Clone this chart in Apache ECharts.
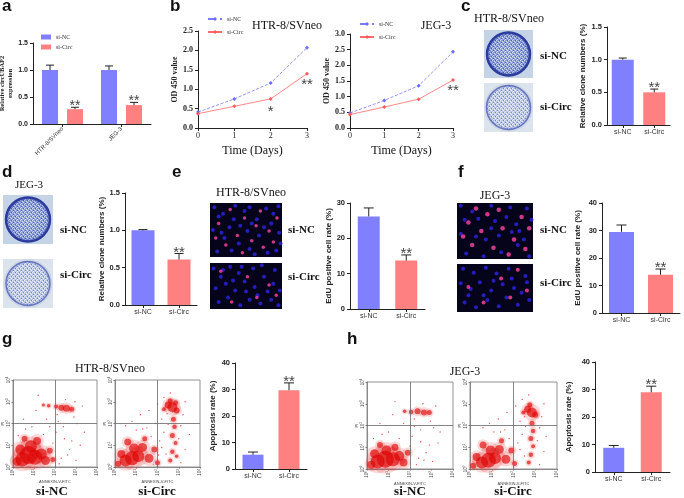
<!DOCTYPE html>
<html>
<head>
<meta charset="utf-8">
<script src="https://cdn.jsdelivr.net/npm/echarts@6/dist/echarts.min.js"></script>
<style>
  html, body { margin: 0; padding: 0; background: #fff; }
  #chart { width: 684px; height: 498px; }
</style>
</head>
<body>
<div id="chart"></div>
<script>
// ---- data ----
const groups = ['si-NC', 'si-Circ'];
const cellLines = ['HTR-8/SVneo', 'JEG-3'];

// a: relative circUBAP2 expression
const exprNC = [1.0, 1.0];
const exprNCErr = [0.09, 0.075];
const exprCirc = [0.275, 0.35];
const exprCircErr = [0.035, 0.05];

// b: CCK-8 OD 450
const days = [0, 1, 2, 3];
const odHtrNC = [0.41, 0.75, 1.16, 2.07];
const odHtrCirc = [0.37, 0.56, 0.75, 1.40];
const odJegNC = [0.48, 0.88, 1.35, 2.43];
const odJegCirc = [0.43, 0.67, 0.92, 1.53];

// c, d: relative clone numbers
const cloneHtr = [1.0, 0.50];
const cloneHtrErr = [0.025, 0.05];
const cloneJeg = [1.0, 0.61];
const cloneJegErr = [0.01, 0.08];

// e, f: EdU positive cell rate
const eduHtr = [26.2, 13.7];
const eduHtrErr = [2.4, 1.6];
const eduJeg = [29.5, 13.9];
const eduJegErr = [2.5, 2.1];

// g, h: apoptosis rate
const apoHtr = [5.4, 29.7];
const apoHtrErr = [1.0, 2.8];
const apoJeg = [8.8, 29.0];
const apoJegErr = [0.85, 2.2];

// flow cytometry (log decades): dense areas [x, y, size] and single events [x, y]
const flowHtrNCDense = [[0.75,0.55,18],[0.45,0.35,14],[1.05,0.45,15],[0.85,0.95,12],[0.35,0.8,10],[1.35,0.6,11],[1.55,0.3,9],[0.2,0.25,9],[1.15,1.2,8],[1.75,0.75,6],[0.55,1.3,6],[1.9,0.35,5],
  [2.55,2.7,7],[2.3,2.72,6],[2.05,2.78,4],[2.8,2.65,5],[1.7,2.82,3.5],[1.45,2.85,3]];
const flowHtrNCEvents = [[2.3,0.4],[2.8,1.2],[2.05,1.6],[1.6,2.2],[3.05,2.0],[2.5,3.1],[0.6,1.75],[2.2,0.15],[2.7,0.8],[3.2,1.0],[1.2,3.3],[2.1,2.4],[2.9,2.3],[0.9,1.85],[1.45,1.5],[3.3,2.8],[2.4,1.85],[0.25,1.45],[2.6,0.55],[3.0,0.3],[1.9,1.1],[2.45,1.3],[1.1,2.6],[2.95,3.0],[3.4,1.6],[0.5,2.2],[2.15,2.1],[1.75,1.85]];
const flowHtrCircDense = [[0.8,0.4,14],[0.5,0.3,12],[1.1,0.5,12],[1.3,0.9,9],[0.9,0.85,10],[1.6,0.4,9],[0.3,0.6,8],[1.85,0.8,6],[0.6,1.15,7],[2.0,0.2,5],[1.4,1.3,5],[0.15,0.15,6],
  [2.7,2.75,10],[2.5,2.85,7],[2.9,2.6,6],[2.6,3.05,5],[2.3,2.65,4],[2.85,2.95,5],
  [2.75,2.2,5],[2.8,1.85,4.5],[2.7,1.45,5],[2.85,1.1,4],[2.7,0.7,4.5],[2.6,0.3,4],[2.9,0.5,3.5]];
const flowHtrCircEvents = [[2.3,1.6],[2.1,1.2],[1.9,2.0],[1.5,1.8],[1.2,2.4],[2.2,2.2],[3.1,1.9],[3.2,2.4],[3.0,1.3],[2.4,0.6],[2.2,0.9],[1.0,1.7],[0.5,1.9],[3.3,0.8],[3.1,0.2],[2.5,1.95],[2.45,2.45],[1.7,1.4],[1.6,2.6],[2.0,2.9],[3.3,3.0],[2.6,3.4],[0.8,2.1],[1.8,0.1],[3.5,1.5],[2.3,3.2],[1.3,1.75],[2.05,0.55]];
const flowJegNCDense = [[0.85,0.45,17],[0.5,0.35,14],[1.2,0.45,14],[0.9,0.85,10],[0.35,0.7,9],[1.5,0.6,10],[1.7,0.3,8],[0.2,0.2,8],[1.3,1.0,7],[1.9,0.75,6],[0.6,1.1,6],
  [2.65,2.6,6],[2.35,2.65,6],[2.05,2.62,4.5],[2.9,2.6,5],[1.75,2.65,3.5]];
const flowJegNCEvents = [[2.4,0.5],[2.9,1.1],[2.1,1.5],[1.7,2.1],[3.1,1.9],[2.6,3.0],[0.7,1.6],[2.3,0.2],[2.75,0.75],[3.3,1.2],[1.3,3.1],[2.2,2.3],[2.95,2.2],[1.0,1.7],[1.5,1.4],[3.2,2.9],[2.5,1.8],[0.3,1.4],[2.65,0.4],[3.05,0.35],[2.0,1.05],[2.5,1.25],[1.2,2.5],[3.4,1.7],[0.6,2.1],[2.2,1.95]];
const flowJegCircDense = [[0.85,0.4,15],[0.55,0.3,12],[1.15,0.5,12],[1.35,0.9,9],[0.95,0.85,10],[1.65,0.45,9],[0.3,0.55,8],[1.9,0.85,6],[0.6,1.1,7],[2.05,0.25,5],[1.45,1.3,5],[0.15,0.15,6],
  [2.85,2.6,10],[2.65,2.75,7],[3.0,2.5,6],[2.75,2.95,5],[2.45,2.6,4],
  [2.85,2.1,5],[2.9,1.75,4.5],[2.8,1.4,5],[2.9,1.05,4],[2.8,0.65,4.5],[2.7,0.3,4]];
const flowJegCircEvents = [[2.4,1.6],[2.2,1.2],[2.0,2.0],[1.6,1.8],[1.3,2.3],[2.3,2.2],[3.2,1.9],[3.3,2.4],[3.1,1.3],[2.5,0.6],[2.3,0.9],[1.1,1.7],[0.6,1.9],[3.4,0.8],[3.2,0.2],[2.55,1.95],[2.5,2.4],[1.8,1.4],[1.7,2.6],[2.1,2.9],[3.4,3.0],[2.7,3.4],[0.9,2.1],[3.5,1.5],[2.4,3.2],[1.4,1.7]];

// EdU images: nuclei positions [x, y] in 0-100 image units
const eduHtrNCBlue = [[6,92],[18,80],[33,70],[55,92],[78,90],[95,94],[4,50],[16,45],[27,55],[42,58],[52,48],[68,40],[85,62],[96,45],[10,10],[30,12],[55,15],[62,5],[80,8],[92,12],[40,25],[65,70],[20,35],[48,85],[75,55],[35,95],[88,80],[58,62],[12,75],[98,25]];
const eduHtrNCPink = [[28,88],[48,72],[12,62],[64,58],[82,48],[93,72],[38,40],[58,30],[22,22],[74,18],[88,28],[45,8],[8,35],[70,85]];
const eduHtrCircBlue = [[5,88],[15,70],[28,92],[40,78],[60,88],[72,95],[90,85],[8,45],[22,55],[35,40],[48,60],[62,48],[75,70],[88,55],[97,40],[12,15],[25,25],[42,8],[55,20],[70,12],[85,20],[95,8],[50,38],[32,62],[80,38],[18,85],[66,30],[44,92]];
const eduHtrCircPink = [[52,70],[82,52],[30,15],[92,30],[15,82],[65,25]];
const eduJegNCBlue = [[5,95],[20,85],[45,95],[70,92],[92,90],[10,70],[28,72],[50,68],[78,62],[98,70],[5,45],[38,35],[55,42],[82,50],[12,10],[35,5],[58,12],[80,25],[95,5],[65,75],[25,40],[45,55],[72,48],[88,35]];
const eduJegNCPink = [[40,80],[55,88],[85,75],[15,65],[32,50],[60,55],[75,35],[20,25],[48,20],[90,18],[8,40],[68,8],[95,55],[25,90]];
const eduJegCircBlue = [[8,90],[22,82],[38,92],[52,80],[68,90],[90,75],[5,60],[18,48],[30,62],[45,45],[60,58],[75,50],[92,62],[10,20],[25,10],[40,25],[55,12],[65,30],[80,15],[95,25],[48,65],[35,35],[85,40],[15,35],[72,70]];
const eduJegCircPink = [[80,88],[58,70],[15,52],[35,20],[70,30],[92,45]];

// ---- style helpers ----
const SANS = 'Liberation Sans';
const SERIF = 'Liberation Serif';
const INK = '#222';
const barColors = ['#8080ff', '#ff8080'];

const grids = [], xAxes = [], yAxes = [], series = [];
function addGrid(box, extra) {
  grids.push(Object.assign({ left: box[0], top: box[1], width: box[2], height: box[3], outerBoundsMode: 'none', containLabel: false }, extra || {}));
  return grids.length - 1;
}

function errorBars(i, vals, errs, stars, shift, cap, starSize) {
  return {
    type: 'custom', xAxisIndex: i, yAxisIndex: i, z: 5, silent: true,
    data: vals.map((v, j) => [j, v, errs[j]]),
    renderItem(params, api) {
      const base = api.coord([api.value(0), api.value(1)]);
      const top = api.coord([api.value(0), api.value(1) + api.value(2)]);
      const x = base[0] + shift;
      const kids = [
        { type: 'line', shape: { x1: x, y1: base[1], x2: x, y2: top[1] }, style: { stroke: INK, lineWidth: 1 } },
        { type: 'line', shape: { x1: x - cap / 2, y1: top[1], x2: x + cap / 2, y2: top[1] }, style: { stroke: INK, lineWidth: 1 } }
      ];
      const s = stars[params.dataIndex];
      if (s) {
        kids.push({ type: 'text', style: { text: s, x: x, y: top[1] - starSize * 0.5 - 1, align: 'center', verticalAlign: 'top',
          font: starSize + 'px ' + SANS, fill: '#444' } });
      }
      return { type: 'group', children: kids };
    }
  };
}

function catAxis(i, fontSize) {
  return {
    type: 'category', gridIndex: i, data: groups,
    axisLine: { lineStyle: { color: INK, width: 1 } },
    axisTick: { show: true, alignWithLabel: true, length: 3, lineStyle: { color: INK } },
    axisLabel: { interval: 0, margin: 4, color: '#333', fontFamily: SANS, fontSize: fontSize || 7 }
  };
}

function valAxis(i, max, step, name, gap, dec) {
  return {
    type: 'value', gridIndex: i, min: 0, max: max, interval: step,
    name: name, nameLocation: 'middle', nameGap: gap,
    nameTextStyle: { fontFamily: SANS, fontWeight: 'bold', fontSize: 8, color: INK },
    axisLine: { show: true, lineStyle: { color: INK, width: 1 } },
    axisTick: { show: true, length: 3, lineStyle: { color: INK } },
    axisLabel: { margin: 5, color: INK, fontFamily: SANS, fontWeight: 'bold', fontSize: 7.5,
      formatter: v => v.toFixed(dec) },
    splitLine: { show: false }
  };
}

function barPanel(box, vals, errs, stars, max, step, name, gap, dec, barW, cap) {
  const i = addGrid(box);
  xAxes.push(catAxis(i));
  yAxes.push(valAxis(i, max, step, name, gap, dec));
  series.push({
    type: 'bar', xAxisIndex: i, yAxisIndex: i, barWidth: barW, silent: true,
    data: vals.map((v, j) => ({ value: v, itemStyle: { color: barColors[j] } }))
  });
  series.push(errorBars(i, vals, errs, stars, 0, cap, 15));
}

function flowAxis(i, name, gap) {
  return {
    type: 'value', gridIndex: i, min: 0, max: 4, interval: 1,
    name: name, nameLocation: 'middle', nameGap: gap,
    nameTextStyle: { fontFamily: SANS, fontSize: 4, color: '#444' },
    axisLine: { show: true, lineStyle: { color: '#777', width: 0.8 } },
    axisTick: { show: true, length: 1.5, lineStyle: { color: '#777' } },
    axisLabel: { margin: 2, rotate: 90, color: '#444',
      formatter: v => '{a|10}{b|' + v + '}',
      rich: { a: { fontSize: 4.5, color: '#444' }, b: { fontSize: 3, color: '#444', verticalAlign: 'top' } } },
    splitLine: { show: false }
  };
}

function flowPanel(box, dense, events) {
  const i = addGrid(box, { show: true, backgroundColor: '#fff', borderColor: '#777', borderWidth: 0.8 });
  xAxes.push(flowAxis(i, 'ANNEXIN-V-FITC', 8));
  yAxes.push(flowAxis(i, 'PI', 7));
  // fringe of each population, then its dense core
  series.push({
    type: 'scatter', xAxisIndex: i, yAxisIndex: i, silent: true, clip: true,
    data: dense, symbolSize: d => d[2] * 1.7,
    itemStyle: { color: 'rgba(235,40,40,0.22)' }
  });
  series.push({
    type: 'scatter', xAxisIndex: i, yAxisIndex: i, silent: true, clip: true,
    data: dense, symbolSize: d => d[2],
    itemStyle: { color: 'rgba(222,0,0,0.8)' },
    markLine: { silent: true, symbol: 'none', label: { show: false },
      lineStyle: { color: '#666', width: 0.8, type: 'solid' },
      data: [{ xAxis: 2 }, { yAxis: 2 }] }
  });
  series.push({
    type: 'scatter', xAxisIndex: i, yAxisIndex: i, silent: true,
    data: events, symbolSize: 1.4, itemStyle: { color: '#e02020' }
  });
}

function eduPanel(box, blue, pink, pinkSize) {
  const i = addGrid(box, { show: true, backgroundColor: '#06041a', borderWidth: 0 });
  xAxes.push({ type: 'value', gridIndex: i, min: 0, max: 100, show: false });
  yAxes.push({ type: 'value', gridIndex: i, min: 0, max: 100, show: false });
  series.push({ type: 'scatter', xAxisIndex: i, yAxisIndex: i, silent: true, data: blue,
    symbolSize: 4, itemStyle: { color: '#2c22dc', opacity: 0.85 } });
  series.push({ type: 'scatter', xAxisIndex: i, yAxisIndex: i, silent: true, data: pink,
    symbolSize: pinkSize, itemStyle: { color: '#ff46a8' } });
}

// ---- a: grouped bars ----
(function () {
  const i = addGrid([33, 43, 118, 81]);
  xAxes.push({
    type: 'category', gridIndex: i, data: cellLines,
    axisLine: { lineStyle: { color: INK, width: 1 } },
    axisTick: { show: true, alignWithLabel: true, length: 3, lineStyle: { color: INK } },
    axisLabel: { interval: 0, rotate: 45, margin: 4, color: '#333', fontFamily: SANS, fontSize: 6 }
  });
  const ya = valAxis(i, 1.5, 0.5, 'Relative circUBAP2\nexpression', 13, 1);
  ya.nameTextStyle = { fontFamily: SERIF, fontWeight: 'bold', fontSize: 6.5, color: INK, lineHeight: 8 };
  ya.axisLabel.fontSize = 7;
  yAxes.push(ya);
  series.push({ type: 'bar', name: 'si-NC', xAxisIndex: i, yAxisIndex: i, barWidth: 16, barGap: '56%',
    data: exprNC, itemStyle: { color: barColors[0] }, silent: true });
  series.push({ type: 'bar', name: 'si-Circ', xAxisIndex: i, yAxisIndex: i, barWidth: 16, barGap: '56%',
    data: exprCirc, itemStyle: { color: barColors[1] }, silent: true });
  series.push(errorBars(i, exprNC, exprNCErr, ['', ''], -12.5, 8, 14));
  series.push(errorBars(i, exprCirc, exprCircErr, ['**', '**'], 12.5, 8, 14));
})();

// ---- b: growth curves ----
function growthPanel(box, nc, circ, max, gap, suffix, stars) {
  const i = addGrid(box);
  xAxes.push({
    type: 'value', gridIndex: i, min: 0, max: 3, interval: 1,
    name: 'Time (Days)', nameLocation: 'middle', nameGap: 17,
    nameTextStyle: { fontFamily: SERIF, fontSize: 12, color: '#111' },
    axisLine: { show: true, lineStyle: { color: INK } },
    axisTick: { show: true, length: 3, lineStyle: { color: INK } },
    axisLabel: { margin: 4, color: INK, fontFamily: SERIF, fontSize: 8 },
    splitLine: { show: false }
  });
  const y = valAxis(i, max, 0.5, 'OD 450 value', gap, 1);
  y.nameTextStyle = { fontFamily: SERIF, fontWeight: 'bold', fontSize: 8, color: INK };
  y.axisLabel.fontFamily = SERIF;
  y.axisLabel.fontSize = 8;
  yAxes.push(y);
  series.push({ type: 'line', name: 'si-NC' + suffix, xAxisIndex: i, yAxisIndex: i, silent: true,
    data: days.map((d, k) => [d, nc[k]]), symbol: 'diamond', symbolSize: 4,
    itemStyle: { color: '#6a6aff' }, lineStyle: { color: '#7a7aff', width: 0.8, type: 'dashed' } });
  series.push({ type: 'line', name: 'si-Circ' + suffix, xAxisIndex: i, yAxisIndex: i, silent: true,
    data: days.map((d, k) => [d, circ[k]]), symbol: 'diamond', symbolSize: 4,
    itemStyle: { color: '#ff5a5a' }, lineStyle: { color: '#ff6a6a', width: 0.8 } });
  series.push({
    type: 'custom', xAxisIndex: i, yAxisIndex: i, silent: true, z: 6,
    data: stars.map(s => [s[0], s[1]]),
    renderItem(params, api) {
      const c = api.coord([api.value(0), api.value(1)]);
      return { type: 'text', style: { text: stars[params.dataIndex][2], x: c[0], y: c[1], align: 'center',
        verticalAlign: 'middle', font: '15px ' + SANS, fill: '#444' } };
    }
  });
}
growthPanel([198, 31, 109, 97], odHtrNC, odHtrCirc, 2.5, 18, ' ', [[2, 0.42, '*'], [3, 1.12, '**']]);
growthPanel([350, 34, 103, 94], odJegNC, odJegCirc, 3.0, 15, '  ', [[3, 1.18, '**']]);

// ---- c-h: bar panels ----
barPanel([607, 27, 63, 98], cloneHtr, cloneHtrErr, ['', '**'], 1.5, 0.5, 'Relative clone numbers (%)', 20, 1, 22, 8);
barPanel([125, 193, 72, 112], cloneJeg, cloneJegErr, ['', '**'], 1.5, 0.5, 'Relative clone numbers (%)', 19, 1, 23, 9);
barPanel([350, 203, 75, 106], eduHtr, eduHtrErr, ['', '**'], 30, 10, 'EdU positive cell rate (%)', 13, 0, 22, 10);
barPanel([602, 203, 78, 110], eduJeg, eduJegErr, ['', '**'], 40, 10, 'EdU positive cell rate (%)', 20, 0, 25, 10);
barPanel([235, 363, 72, 106], apoHtr, apoHtrErr, ['', '**'], 40, 10, 'Apoptosis rate (%)', 18, 0, 21, 10);
barPanel([595, 362, 75, 110], apoJeg, apoJegErr, ['', '**'], 40, 10, 'Apoptosis rate (%)', 22, 0, 21, 10);

// ---- image-like panels ----
eduPanel([210, 203, 72, 54], eduHtrNCBlue, eduHtrNCPink, 3.5);
eduPanel([210, 263, 72, 46], eduHtrCircBlue, eduHtrCircPink, 3.5);
eduPanel([457, 203, 76, 56], eduJegNCBlue, eduJegNCPink, 4.5);
eduPanel([457, 264, 76, 48], eduJegCircBlue, eduJegCircPink, 4);

flowPanel([13, 380, 84, 87], flowHtrNCDense, flowHtrNCEvents);
flowPanel([115, 380, 85, 87], flowHtrCircDense, flowHtrCircEvents);
flowPanel([367, 382, 86, 87], flowJegNCDense, flowJegNCEvents);
flowPanel([470, 382, 87, 87], flowJegCircDense, flowJegCircEvents);

// ---- texts and dishes ----
function txt(text, x, y, font, align, vAlign, fill) {
  return { type: 'text', x: x, y: y, silent: true,
    style: { text: text, font: font, fill: fill || '#111', align: align || 'left', verticalAlign: vAlign || 'top' } };
}
// small fixed speckle tile for the stained plates
function speckle(base, spot, dark) {
  const c = document.createElement('canvas');
  c.width = 4; c.height = 4;
  const g = c.getContext('2d');
  g.fillStyle = base; g.fillRect(0, 0, 4, 4);
  g.fillStyle = spot; g.fillRect(0, 0, 1, 1); g.fillRect(2, 1, 1, 1); g.fillRect(1, 3, 1, 1); g.fillRect(3, 2, 1, 1);
  g.fillStyle = dark; g.fillRect(3, 0, 1, 1); g.fillRect(1, 2, 1, 1);
  return { image: c, repeat: 'repeat' };
}
function dish(x, y, w, h, light) {
  const cx = x + w / 2, cy = y + h / 2, r = Math.min(w, h) / 2 - 1.5;
  const tex = light ? speckle('#bcc6e8', '#eef1fa', '#6f80c8') : speckle('#8da0da', '#dfe6f6', '#4558b4');
  const edge = light
    ? new echarts.graphic.RadialGradient(0.5, 0.5, 0.5, [{ offset: 0, color: 'rgba(255,255,255,0.15)' }, { offset: 0.85, color: 'rgba(120,135,200,0)' }, { offset: 1, color: 'rgba(90,105,190,0.6)' }])
    : new echarts.graphic.RadialGradient(0.5, 0.5, 0.5, [{ offset: 0, color: 'rgba(255,255,255,0.1)' }, { offset: 0.8, color: 'rgba(60,80,180,0.1)' }, { offset: 1, color: 'rgba(40,55,160,0.8)' }]);
  return { type: 'group', silent: true, children: [
    { type: 'rect', shape: { x: x, y: y, width: w, height: h }, style: { fill: light ? '#dbe3ec' : '#c4d4e6' } },
    { type: 'circle', shape: { cx: cx, cy: cy, r: r + (light ? 1.2 : 0) }, style: { fill: light ? '#cbd3e4' : '#9fb3da' } },
    { type: 'circle', shape: { cx: cx, cy: cy, r: r - 1 }, style: { fill: tex } },
    { type: 'circle', shape: { cx: cx, cy: cy, r: r - 1 }, style: { fill: edge, stroke: light ? '#6575c0' : '#2c3b9c', lineWidth: light ? 1.4 : 2.4 } }
  ] };
}

const LETTER = 'bold 17px ' + SANS;
const TITLE = '12px ' + SERIF;
const GROUP = 'bold 11px ' + SERIF;
const GROUP_BIG = 'bold 13px ' + SERIF;

const graphics = [
  txt('a', 2, -2, LETTER), txt('b', 170, -2, LETTER), txt('c', 461, -2, LETTER),
  txt('d', 2, 164, LETTER), txt('e', 172, 164, LETTER), txt('f', 458, 164, LETTER),
  txt('g', 2, 331, LETTER), txt('h', 347, 331, LETTER),
  txt(cellLines[0], 287, 26, TITLE, 'center', 'middle'),
  txt(cellLines[1], 436, 26, TITLE, 'center', 'middle'),
  txt(cellLines[0], 509, 19, TITLE, 'center', 'middle'),
  txt(cellLines[1], 29, 185, '11px ' + SERIF, 'center', 'middle'),
  txt(cellLines[0], 251, 193, TITLE, 'center', 'middle'),
  txt(cellLines[1], 495, 196, TITLE, 'center', 'middle'),
  txt(cellLines[0], 110, 369, TITLE, 'center', 'middle'),
  txt(cellLines[1], 465, 372, TITLE, 'center', 'middle'),
  txt(groups[0], 540, 56, GROUP, 'left', 'middle'), txt(groups[1], 540, 107, GROUP, 'left', 'middle'),
  txt(groups[0], 60, 230, GROUP, 'left', 'middle'), txt(groups[1], 60, 275, GROUP, 'left', 'middle'),
  txt(groups[0], 288, 230, GROUP, 'left', 'middle'), txt(groups[1], 288, 277, GROUP, 'left', 'middle'),
  txt(groups[0], 540, 230, GROUP, 'left', 'middle'), txt(groups[1], 540, 283, GROUP, 'left', 'middle'),
  txt(groups[0], 52, 492, GROUP_BIG, 'center', 'middle'), txt(groups[1], 157, 492, GROUP_BIG, 'center', 'middle'),
  txt(groups[0], 410, 492, GROUP_BIG, 'center', 'middle'), txt(groups[1], 513, 492, GROUP_BIG, 'center', 'middle'),
  dish(484, 30, 49, 48, false), dish(484, 83, 49, 49, true),
  dish(3, 195, 50, 49, false), dish(3, 259, 50, 49, true)
];

const legendText = { fontFamily: SERIF, fontSize: 6, color: '#333' };
const chart = echarts.init(document.getElementById('chart'), null, { renderer: 'canvas', width: 684, height: 498 });
chart.setOption({
  animation: false,
  backgroundColor: '#ffffff',
  textStyle: { fontFamily: SANS },
  grid: grids,
  xAxis: xAxes,
  yAxis: yAxes,
  legend: [
    { left: 36, top: 29, orient: 'vertical', icon: 'rect', itemWidth: 10, itemHeight: 5, itemGap: 4,
      textStyle: legendText, data: ['si-NC', 'si-Circ'], selectedMode: false },
    { left: 202, top: 11, orient: 'vertical', itemWidth: 14, itemHeight: 5, itemGap: 7,
      textStyle: legendText, data: ['si-NC ', 'si-Circ '], formatter: n => n.trim(), selectedMode: false },
    { left: 354, top: 16, orient: 'vertical', itemWidth: 14, itemHeight: 5, itemGap: 7,
      textStyle: legendText, data: ['si-NC  ', 'si-Circ  '], formatter: n => n.trim(), selectedMode: false }
  ],
  graphic: graphics,
  series: series
});
</script>
</body>
</html>
